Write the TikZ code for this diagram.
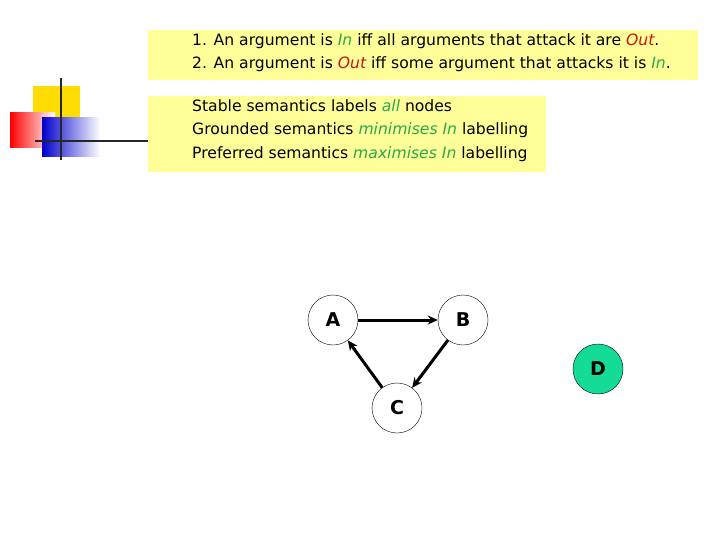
\documentclass[tikz,border=0pt]{standalone}
\usepackage{fontspec}
\setmainfont{DejaVu Sans}
\usetikzlibrary{arrows.meta}
\definecolor{boxy}{RGB}{255,255,153}
\definecolor{ingreen}{RGB}{40,170,70}
\definecolor{outred}{RGB}{200,20,20}
\definecolor{dgreen}{RGB}{20,220,150}
\begin{document}
\begin{tikzpicture}[x=1pt,y=-1pt,
  arg/.style={circle,draw,thin,minimum size=50pt,inner sep=0pt,font=\fontsize{19}{19}\selectfont\bfseries},
  att/.style={line width=3pt,-{Stealth[length=10pt,width=9pt]}},
  txt/.style={font=\fontsize{15.6}{23.5}\selectfont,align=left,anchor=north west,inner sep=0pt}]
\useasboundingbox (0,0) rectangle (720,540);
\fill[white] (0,0) rectangle (720,540);
% decoration
\fill[yellow!80!orange] (33,86) rectangle (80,122);
\shade[left color=red, right color=white] (10,113) rectangle (55,148);
\shade[left color=blue!80!black, right color=white] (42,118) rectangle (100,157);
\draw[line width=2pt,black!85] (61,78) -- (61,160);
\draw[line width=2pt,black!85] (35,141) -- (148,141);
% boxes
\fill[boxy] (148,30) rectangle (698,80);
\fill[boxy] (148,96) rectangle (546,172);
\node[txt] (t1) at (192,33) {1. An argument is \textcolor{ingreen}{\itshape In} iff all arguments that attack it are \textcolor{outred}{\itshape Out}.\\
2. An argument is \textcolor{outred}{\itshape Out} iff some argument that attacks it is \textcolor{ingreen}{\itshape In}.};
\node[txt] (t2) at (192,99) {Stable semantics labels \textcolor{ingreen}{\itshape all} nodes\\
Grounded semantics \textcolor{ingreen}{\itshape minimises In} labelling\\
Preferred semantics \textcolor{ingreen}{\itshape maximises In} labelling};
% graph
\node[arg] (A) at (333,320) {A};
\node[arg] (B) at (463,320) {B};
\node[arg] (C) at (397,408) {C};
\node[arg,fill=dgreen] (D) at (598,369) {D};
\draw[att] (A) -- (B);
\draw[att] (B) -- (C);
\draw[att] (C) -- (A);
\end{tikzpicture}
\end{document}
